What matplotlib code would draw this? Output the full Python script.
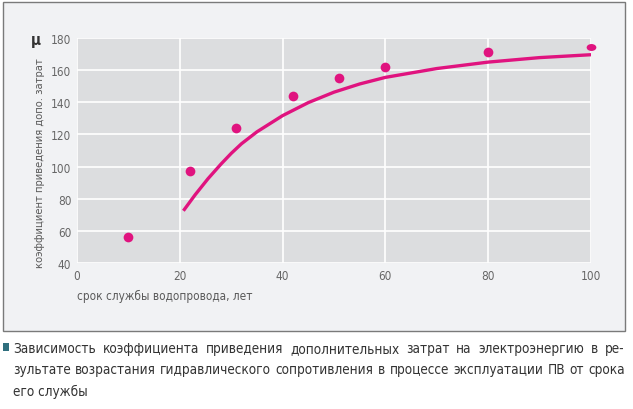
import matplotlib
matplotlib.use("Agg")
import matplotlib.pyplot as plt
from matplotlib.patches import Rectangle
from matplotlib.path import Path
from matplotlib.transforms import Affine2D

plt.rcParams['font.family'] = ['DejaVu Sans']
plt.rcParams['font.stretch'] = 'condensed'

# data
point_years = [10, 22, 31, 42, 51, 60, 80]
point_mu = [56, 97, 124, 144, 155, 162, 171.5]
last_year = [100]
last_mu = [174.5]
curve_years = [20.7, 23, 25.5, 28, 30, 32, 35, 40, 45, 50, 55, 60, 70, 80, 90, 100]
curve_mu = [72.5, 82.5, 92.5, 101.5, 108.2, 114.2, 121.6, 131.7, 139.8, 146.3, 151.4, 155.5, 161.0, 165.0, 167.8, 169.6]
x_ticks = [0, 20, 40, 60, 80, 100]
y_ticks = [40, 60, 80, 100, 120, 140, 160, 180]
x_label = "срок службы водопровода, лет"
y_label = "коэффициент приведения допо. затрат"
caption_lines = [
    "Зависимость коэффициента приведения дополнительных затрат на электроэнергию в ре-",
    "зультате возрастания гидравлического сопротивления в процессе эксплуатации ПВ от срока",
    "его службы",
]

W, H = 633, 410
fig = plt.figure(figsize=(W / 100, H / 100), dpi=100)
fig.patch.set_facecolor('white')

def fx(px):
    return px / W

def fy(py):
    return 1 - py / H

# outer box
fig.patches.append(Rectangle((fx(3), fy(332)), fx(622), (329) / H, transform=fig.transFigure,
                             facecolor='#f1f2f4', edgecolor='#7a7a7a', linewidth=1.0, zorder=-5))

ax = fig.add_axes([fx(77), fy(264), fx(591 - 77), (264 - 39) / H])
ax.set_zorder(2)
ax.set_facecolor('#dcdddf')
ax.set_xlim(0, 100)
ax.set_ylim(40, 180)
ax.set_xticks(x_ticks)
ax.set_yticks(y_ticks)
for s in ax.spines.values():
    s.set_visible(False)
ax.tick_params(length=0, labelsize=8.5, colors='#666666', pad=4)
ax.grid(True, color='white', linewidth=1.2)
ax.set_axisbelow(True)

ax.plot(curve_years, curve_mu, color='#e0137f', linewidth=2.4, solid_capstyle='butt',
        solid_joinstyle='round', zorder=3)
ax.plot(point_years, point_mu, 'o', color='#e0137f', markersize=7, markeredgewidth=0, zorder=4, clip_on=False)
ell = Path.unit_circle().transformed(Affine2D().scale(1.4, 1.0))
ax.plot(last_year, last_mu, linestyle='none', marker=ell, color='#e0137f', markersize=7,
        markeredgewidth=0, zorder=4, clip_on=False)

fig.text(fx(77), fy(296), x_label, ha='left', va='center', fontsize=8.5, color='#5a5a5a')
fig.text(fx(40), fy(163), y_label, ha='center', va='center', rotation=90, fontsize=8, color='#5a5a5a')
fig.text(fx(36), fy(40), "μ", ha='center', va='center', fontsize=11, color='#333333', fontweight='bold')

# caption
fig.patches.append(Rectangle((fx(3), fy(352)), fx(6), 8 / H, transform=fig.transFigure,
                             facecolor='#2f6f7e', edgecolor='none'))
renderer = fig.canvas.get_renderer()
left_px, right_px = 13, 625
avail = right_px - left_px
# choose a size so that the longest line fits the available width
probe = fig.text(0, 0, caption_lines[1], fontsize=10)
probe_w = probe.get_window_extent(renderer).width
probe.remove()
cap_size = min(10.0 * (avail - 2) / probe_w, 11.5)
for i, line in enumerate(caption_lines):
    ypos = fy(349 + i * 21.5)
    if i == len(caption_lines) - 1:
        fig.text(fx(left_px), ypos, line, ha='left', va='center', fontsize=cap_size, color='#333333')
        continue
    words = line.split(' ')
    texts = []
    widths = []
    for w in words:
        t = fig.text(0, ypos, w, ha='left', va='center', fontsize=cap_size, color='#333333')
        texts.append(t)
        widths.append(t.get_window_extent(renderer).width)
    gap = (avail - sum(widths)) / (len(words) - 1)
    xcur = left_px
    for t, wd in zip(texts, widths):
        t.set_x(fx(xcur))
        xcur += wd + gap

fig.savefig('out.png', dpi=100)
